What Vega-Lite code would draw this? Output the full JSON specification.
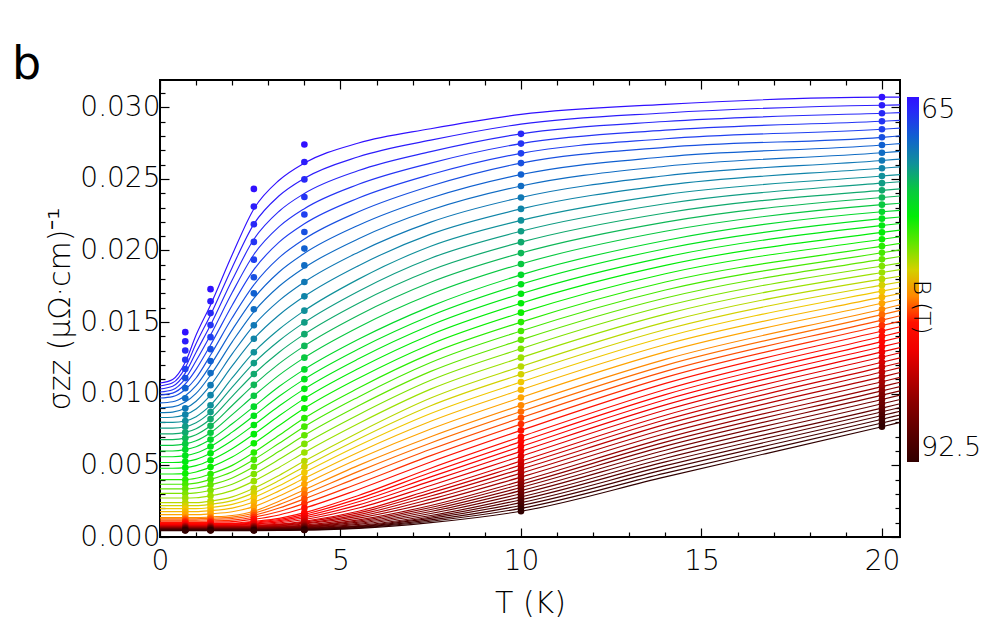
{
  "$schema": "https://vega.github.io/schema/vega-lite/v6.json",
  "width": 740,
  "height": 457,
  "autosize": {"type": "none"},
  "padding": {"left": 160, "top": 80, "right": 100, "bottom": 80},
  "background": "white",
  "title": {"text": "b", "anchor": "start", "frame": "group", "font": "DejaVu Sans", "fontSize": 46, "fontWeight": "normal", "color": "black", "dx": -148, "dy": 49, "offset": 3, "baseline": "alphabetic"},
  "config": {
    "view": {"stroke": "black", "strokeWidth": 2},
    "axis": {"domain": false, "grid": false, "labelFont": "DejaVu Sans", "labelFontSize": 28, "labelFontWeight": 300, "labelColor": "black", "titleFont": "DejaVu Sans", "titleFontSize": 30, "titleFontWeight": 300, "titleColor": "black", "tickColor": "black", "tickWidth": 1.2, "labelOverlap": false, "labelBound": false, "labelFlush": false},
    "legend": {"orient": "none", "legendX": 747, "legendY": 17, "padding": 0, "direction": "vertical", "gradientLength": 365, "gradientThickness": 12, "gradientStrokeWidth": 0, "labelFont": "DejaVu Sans", "labelFontSize": 27, "labelFontWeight": 300, "labelColor": "black", "labelOffset": 5, "labelOverlap": false, "titleFont": "DejaVu Sans", "titleFontSize": 23, "titleFontWeight": 300, "titleColor": "black", "titleOrient": "right", "titleAngle": 0, "titleAnchor": "middle", "titleBaseline": "middle", "titlePadding": -60}
  },
  "datasets": {
    "curves": [
      {"B":65,"T":0,"s":0.01075},{"B":65,"T":0.35,"s":0.011},{"B":65,"T":0.7,"s":0.0122},{"B":65,"T":1,"s":0.0141},{"B":65,"T":1.4,"s":0.0162},{"B":65,"T":2,"s":0.0197},{"B":65,"T":2.6,"s":0.0229},{"B":65,"T":3.3,"s":0.0249},{"B":65,"T":4,"s":0.0261},{"B":65,"T":5.5,"s":0.0275},{"B":65,"T":7.5,"s":0.0285},{"B":65,"T":10,"s":0.0295},{"B":65,"T":14,"s":0.0302},{"B":65,"T":20,"s":0.0307},{"B":65,"T":20.5,"s":0.0307},
      {"B":65.5,"T":0,"s":0.01054},{"B":65.5,"T":0.35,"s":0.01076},{"B":65.5,"T":0.7,"s":0.01182},{"B":65.5,"T":1,"s":0.0135},{"B":65.5,"T":1.4,"s":0.0155},{"B":65.5,"T":2,"s":0.01882},{"B":65.5,"T":2.6,"s":0.02184},{"B":65.5,"T":3.3,"s":0.02382},{"B":65.5,"T":4,"s":0.02504},{"B":65.5,"T":5.5,"s":0.02654},{"B":65.5,"T":7.5,"s":0.0277},{"B":65.5,"T":10,"s":0.02882},{"B":65.5,"T":14,"s":0.0296},{"B":65.5,"T":20,"s":0.03014},{"B":65.5,"T":20.5,"s":0.03016},
      {"B":66,"T":0,"s":0.01033},{"B":66,"T":0.35,"s":0.01052},{"B":66,"T":0.7,"s":0.01144},{"B":66,"T":1,"s":0.0129},{"B":66,"T":1.4,"s":0.0148},{"B":66,"T":2,"s":0.01794},{"B":66,"T":2.6,"s":0.02078},{"B":66,"T":3.3,"s":0.02274},{"B":66,"T":4,"s":0.02398},{"B":66,"T":5.5,"s":0.02558},{"B":66,"T":7.5,"s":0.0269},{"B":66,"T":10,"s":0.02814},{"B":66,"T":14,"s":0.029},{"B":66,"T":20,"s":0.02958},{"B":66,"T":20.5,"s":0.02962},
      {"B":66.5,"T":0,"s":0.01012},{"B":66.5,"T":0.35,"s":0.01028},{"B":66.5,"T":0.7,"s":0.01106},{"B":66.5,"T":1,"s":0.0123},{"B":66.5,"T":1.4,"s":0.0141},{"B":66.5,"T":2,"s":0.01706},{"B":66.5,"T":2.6,"s":0.01972},{"B":66.5,"T":3.3,"s":0.02166},{"B":66.5,"T":4,"s":0.02292},{"B":66.5,"T":5.5,"s":0.02462},{"B":66.5,"T":7.5,"s":0.0261},{"B":66.5,"T":10,"s":0.02746},{"B":66.5,"T":14,"s":0.0284},{"B":66.5,"T":20,"s":0.02902},{"B":66.5,"T":20.5,"s":0.02908},
      {"B":67,"T":0,"s":0.00991},{"B":67,"T":0.35,"s":0.01004},{"B":67,"T":0.7,"s":0.01068},{"B":67,"T":1,"s":0.0117},{"B":67,"T":1.4,"s":0.0134},{"B":67,"T":2,"s":0.01618},{"B":67,"T":2.6,"s":0.01866},{"B":67,"T":3.3,"s":0.02058},{"B":67,"T":4,"s":0.02186},{"B":67,"T":5.5,"s":0.02366},{"B":67,"T":7.5,"s":0.0253},{"B":67,"T":10,"s":0.02678},{"B":67,"T":14,"s":0.0278},{"B":67,"T":20,"s":0.02846},{"B":67,"T":20.5,"s":0.02854},
      {"B":67.5,"T":0,"s":0.0097},{"B":67.5,"T":0.35,"s":0.0098},{"B":67.5,"T":0.7,"s":0.0103},{"B":67.5,"T":1,"s":0.0111},{"B":67.5,"T":1.4,"s":0.0127},{"B":67.5,"T":2,"s":0.0153},{"B":67.5,"T":2.6,"s":0.0176},{"B":67.5,"T":3.3,"s":0.0195},{"B":67.5,"T":4,"s":0.0208},{"B":67.5,"T":5.5,"s":0.0227},{"B":67.5,"T":7.5,"s":0.0245},{"B":67.5,"T":10,"s":0.0261},{"B":67.5,"T":14,"s":0.0272},{"B":67.5,"T":20,"s":0.0279},{"B":67.5,"T":20.5,"s":0.028},
      {"B":68,"T":0,"s":0.00936},{"B":68,"T":0.35,"s":0.00944},{"B":68,"T":0.7,"s":0.00986},{"B":68,"T":1,"s":0.01056},{"B":68,"T":1.4,"s":0.012},{"B":68,"T":2,"s":0.01446},{"B":68,"T":2.6,"s":0.01666},{"B":68,"T":3.3,"s":0.0185},{"B":68,"T":4,"s":0.0198},{"B":68,"T":5.5,"s":0.02176},{"B":68,"T":7.5,"s":0.02366},{"B":68,"T":10,"s":0.0253},{"B":68,"T":14,"s":0.02654},{"B":68,"T":20,"s":0.02736},{"B":68,"T":20.5,"s":0.02746},
      {"B":68.5,"T":0,"s":0.00902},{"B":68.5,"T":0.35,"s":0.00908},{"B":68.5,"T":0.7,"s":0.00942},{"B":68.5,"T":1,"s":0.01002},{"B":68.5,"T":1.4,"s":0.0113},{"B":68.5,"T":2,"s":0.01362},{"B":68.5,"T":2.6,"s":0.01572},{"B":68.5,"T":3.3,"s":0.0175},{"B":68.5,"T":4,"s":0.0188},{"B":68.5,"T":5.5,"s":0.02082},{"B":68.5,"T":7.5,"s":0.02282},{"B":68.5,"T":10,"s":0.0245},{"B":68.5,"T":14,"s":0.02588},{"B":68.5,"T":20,"s":0.02682},{"B":68.5,"T":20.5,"s":0.02692},
      {"B":69,"T":0,"s":0.00868},{"B":69,"T":0.35,"s":0.00872},{"B":69,"T":0.7,"s":0.00898},{"B":69,"T":1,"s":0.00948},{"B":69,"T":1.4,"s":0.0106},{"B":69,"T":2,"s":0.01278},{"B":69,"T":2.6,"s":0.01478},{"B":69,"T":3.3,"s":0.0165},{"B":69,"T":4,"s":0.0178},{"B":69,"T":5.5,"s":0.01988},{"B":69,"T":7.5,"s":0.02198},{"B":69,"T":10,"s":0.0237},{"B":69,"T":14,"s":0.02522},{"B":69,"T":20,"s":0.02628},{"B":69,"T":20.5,"s":0.02638},
      {"B":69.5,"T":0,"s":0.00834},{"B":69.5,"T":0.35,"s":0.00836},{"B":69.5,"T":0.7,"s":0.00854},{"B":69.5,"T":1,"s":0.00894},{"B":69.5,"T":1.4,"s":0.0099},{"B":69.5,"T":2,"s":0.01194},{"B":69.5,"T":2.6,"s":0.01384},{"B":69.5,"T":3.3,"s":0.0155},{"B":69.5,"T":4,"s":0.0168},{"B":69.5,"T":5.5,"s":0.01894},{"B":69.5,"T":7.5,"s":0.02114},{"B":69.5,"T":10,"s":0.0229},{"B":69.5,"T":14,"s":0.02456},{"B":69.5,"T":20,"s":0.02574},{"B":69.5,"T":20.5,"s":0.02584},
      {"B":70,"T":0,"s":0.008},{"B":70,"T":0.35,"s":0.008},{"B":70,"T":0.7,"s":0.0081},{"B":70,"T":1,"s":0.0084},{"B":70,"T":1.4,"s":0.0092},{"B":70,"T":2,"s":0.0111},{"B":70,"T":2.6,"s":0.0129},{"B":70,"T":3.3,"s":0.0145},{"B":70,"T":4,"s":0.0158},{"B":70,"T":5.5,"s":0.018},{"B":70,"T":7.5,"s":0.0203},{"B":70,"T":10,"s":0.0221},{"B":70,"T":14,"s":0.0239},{"B":70,"T":20,"s":0.0252},{"B":70,"T":20.5,"s":0.0253},
      {"B":70.5,"T":0,"s":0.0076},{"B":70.5,"T":0.35,"s":0.0076},{"B":70.5,"T":0.7,"s":0.0077},{"B":70.5,"T":1,"s":0.00798},{"B":70.5,"T":1.4,"s":0.00872},{"B":70.5,"T":2,"s":0.01046},{"B":70.5,"T":2.6,"s":0.01214},{"B":70.5,"T":3.3,"s":0.0137},{"B":70.5,"T":4,"s":0.01498},{"B":70.5,"T":5.5,"s":0.01716},{"B":70.5,"T":7.5,"s":0.01946},{"B":70.5,"T":10,"s":0.02134},{"B":70.5,"T":14,"s":0.02326},{"B":70.5,"T":20,"s":0.0247},{"B":70.5,"T":20.5,"s":0.0248},
      {"B":71,"T":0,"s":0.0072},{"B":71,"T":0.35,"s":0.0072},{"B":71,"T":0.7,"s":0.0073},{"B":71,"T":1,"s":0.00756},{"B":71,"T":1.4,"s":0.00824},{"B":71,"T":2,"s":0.00982},{"B":71,"T":2.6,"s":0.01138},{"B":71,"T":3.3,"s":0.0129},{"B":71,"T":4,"s":0.01416},{"B":71,"T":5.5,"s":0.01632},{"B":71,"T":7.5,"s":0.01862},{"B":71,"T":10,"s":0.02058},{"B":71,"T":14,"s":0.02262},{"B":71,"T":20,"s":0.0242},{"B":71,"T":20.5,"s":0.0243},
      {"B":71.5,"T":0,"s":0.0068},{"B":71.5,"T":0.35,"s":0.0068},{"B":71.5,"T":0.7,"s":0.0069},{"B":71.5,"T":1,"s":0.00714},{"B":71.5,"T":1.4,"s":0.00776},{"B":71.5,"T":2,"s":0.00918},{"B":71.5,"T":2.6,"s":0.01062},{"B":71.5,"T":3.3,"s":0.0121},{"B":71.5,"T":4,"s":0.01334},{"B":71.5,"T":5.5,"s":0.01548},{"B":71.5,"T":7.5,"s":0.01778},{"B":71.5,"T":10,"s":0.01982},{"B":71.5,"T":14,"s":0.02198},{"B":71.5,"T":20,"s":0.0237},{"B":71.5,"T":20.5,"s":0.0238},
      {"B":72,"T":0,"s":0.0064},{"B":72,"T":0.35,"s":0.0064},{"B":72,"T":0.7,"s":0.0065},{"B":72,"T":1,"s":0.00672},{"B":72,"T":1.4,"s":0.00728},{"B":72,"T":2,"s":0.00854},{"B":72,"T":2.6,"s":0.00986},{"B":72,"T":3.3,"s":0.0113},{"B":72,"T":4,"s":0.01252},{"B":72,"T":5.5,"s":0.01464},{"B":72,"T":7.5,"s":0.01694},{"B":72,"T":10,"s":0.01906},{"B":72,"T":14,"s":0.02134},{"B":72,"T":20,"s":0.0232},{"B":72,"T":20.5,"s":0.0233},
      {"B":72.5,"T":0,"s":0.006},{"B":72.5,"T":0.35,"s":0.006},{"B":72.5,"T":0.7,"s":0.0061},{"B":72.5,"T":1,"s":0.0063},{"B":72.5,"T":1.4,"s":0.0068},{"B":72.5,"T":2,"s":0.0079},{"B":72.5,"T":2.6,"s":0.0091},{"B":72.5,"T":3.3,"s":0.0105},{"B":72.5,"T":4,"s":0.0117},{"B":72.5,"T":5.5,"s":0.0138},{"B":72.5,"T":7.5,"s":0.0161},{"B":72.5,"T":10,"s":0.0183},{"B":72.5,"T":14,"s":0.0207},{"B":72.5,"T":20,"s":0.0227},{"B":72.5,"T":20.5,"s":0.0228},
      {"B":73,"T":0,"s":0.0056},{"B":73,"T":0.35,"s":0.0056},{"B":73,"T":0.7,"s":0.00568},{"B":73,"T":1,"s":0.00586},{"B":73,"T":1.4,"s":0.00632},{"B":73,"T":2,"s":0.00732},{"B":73,"T":2.6,"s":0.00846},{"B":73,"T":3.3,"s":0.00982},{"B":73,"T":4,"s":0.01102},{"B":73,"T":5.5,"s":0.01312},{"B":73,"T":7.5,"s":0.01544},{"B":73,"T":10,"s":0.01764},{"B":73,"T":14,"s":0.02012},{"B":73,"T":20,"s":0.02222},{"B":73,"T":20.5,"s":0.02234},
      {"B":73.5,"T":0,"s":0.0052},{"B":73.5,"T":0.35,"s":0.0052},{"B":73.5,"T":0.7,"s":0.00526},{"B":73.5,"T":1,"s":0.00542},{"B":73.5,"T":1.4,"s":0.00584},{"B":73.5,"T":2,"s":0.00674},{"B":73.5,"T":2.6,"s":0.00782},{"B":73.5,"T":3.3,"s":0.00914},{"B":73.5,"T":4,"s":0.01034},{"B":73.5,"T":5.5,"s":0.01244},{"B":73.5,"T":7.5,"s":0.01478},{"B":73.5,"T":10,"s":0.01698},{"B":73.5,"T":14,"s":0.01954},{"B":73.5,"T":20,"s":0.02174},{"B":73.5,"T":20.5,"s":0.02188},
      {"B":74,"T":0,"s":0.0048},{"B":74,"T":0.35,"s":0.0048},{"B":74,"T":0.7,"s":0.00484},{"B":74,"T":1,"s":0.00498},{"B":74,"T":1.4,"s":0.00536},{"B":74,"T":2,"s":0.00616},{"B":74,"T":2.6,"s":0.00718},{"B":74,"T":3.3,"s":0.00846},{"B":74,"T":4,"s":0.00966},{"B":74,"T":5.5,"s":0.01176},{"B":74,"T":7.5,"s":0.01412},{"B":74,"T":10,"s":0.01632},{"B":74,"T":14,"s":0.01896},{"B":74,"T":20,"s":0.02126},{"B":74,"T":20.5,"s":0.02142},
      {"B":74.5,"T":0,"s":0.0044},{"B":74.5,"T":0.35,"s":0.0044},{"B":74.5,"T":0.7,"s":0.00442},{"B":74.5,"T":1,"s":0.00454},{"B":74.5,"T":1.4,"s":0.00488},{"B":74.5,"T":2,"s":0.00558},{"B":74.5,"T":2.6,"s":0.00654},{"B":74.5,"T":3.3,"s":0.00778},{"B":74.5,"T":4,"s":0.00898},{"B":74.5,"T":5.5,"s":0.01108},{"B":74.5,"T":7.5,"s":0.01346},{"B":74.5,"T":10,"s":0.01566},{"B":74.5,"T":14,"s":0.01838},{"B":74.5,"T":20,"s":0.02078},{"B":74.5,"T":20.5,"s":0.02096},
      {"B":75,"T":0,"s":0.004},{"B":75,"T":0.7,"s":0.004},{"B":75,"T":1,"s":0.0041},{"B":75,"T":1.4,"s":0.0044},{"B":75,"T":2,"s":0.005},{"B":75,"T":2.6,"s":0.0059},{"B":75,"T":3.3,"s":0.0071},{"B":75,"T":4,"s":0.0083},{"B":75,"T":5.5,"s":0.0104},{"B":75,"T":7.5,"s":0.0128},{"B":75,"T":10,"s":0.015},{"B":75,"T":14,"s":0.0178},{"B":75,"T":20,"s":0.0203},{"B":75,"T":20.5,"s":0.0205},
      {"B":75.5,"T":0,"s":0.00368},{"B":75.5,"T":0.7,"s":0.00368},{"B":75.5,"T":1,"s":0.00376},{"B":75.5,"T":1.4,"s":0.00402},{"B":75.5,"T":2,"s":0.00456},{"B":75.5,"T":2.6,"s":0.0054},{"B":75.5,"T":3.3,"s":0.00654},{"B":75.5,"T":4,"s":0.0077},{"B":75.5,"T":5.5,"s":0.00978},{"B":75.5,"T":7.5,"s":0.01218},{"B":75.5,"T":10,"s":0.01438},{"B":75.5,"T":14,"s":0.01724},{"B":75.5,"T":20,"s":0.01984},{"B":75.5,"T":20.5,"s":0.02004},
      {"B":76,"T":0,"s":0.00336},{"B":76,"T":0.7,"s":0.00336},{"B":76,"T":1,"s":0.00342},{"B":76,"T":1.4,"s":0.00364},{"B":76,"T":2,"s":0.00412},{"B":76,"T":2.6,"s":0.0049},{"B":76,"T":3.3,"s":0.00598},{"B":76,"T":4,"s":0.0071},{"B":76,"T":5.5,"s":0.00916},{"B":76,"T":7.5,"s":0.01156},{"B":76,"T":10,"s":0.01376},{"B":76,"T":14,"s":0.01668},{"B":76,"T":20,"s":0.01938},{"B":76,"T":20.5,"s":0.01958},
      {"B":76.5,"T":0,"s":0.00304},{"B":76.5,"T":0.7,"s":0.00304},{"B":76.5,"T":1,"s":0.00308},{"B":76.5,"T":1.4,"s":0.00326},{"B":76.5,"T":2,"s":0.00368},{"B":76.5,"T":2.6,"s":0.0044},{"B":76.5,"T":3.3,"s":0.00542},{"B":76.5,"T":4,"s":0.0065},{"B":76.5,"T":5.5,"s":0.00854},{"B":76.5,"T":7.5,"s":0.01094},{"B":76.5,"T":10,"s":0.01314},{"B":76.5,"T":14,"s":0.01612},{"B":76.5,"T":20,"s":0.01892},{"B":76.5,"T":20.5,"s":0.01912},
      {"B":77,"T":0,"s":0.00272},{"B":77,"T":0.7,"s":0.00272},{"B":77,"T":1,"s":0.00274},{"B":77,"T":1.4,"s":0.00288},{"B":77,"T":2,"s":0.00324},{"B":77,"T":2.6,"s":0.0039},{"B":77,"T":3.3,"s":0.00486},{"B":77,"T":4,"s":0.0059},{"B":77,"T":5.5,"s":0.00792},{"B":77,"T":7.5,"s":0.01032},{"B":77,"T":10,"s":0.01252},{"B":77,"T":14,"s":0.01556},{"B":77,"T":20,"s":0.01846},{"B":77,"T":20.5,"s":0.01866},
      {"B":77.5,"T":0,"s":0.0024},{"B":77.5,"T":0.7,"s":0.0024},{"B":77.5,"T":1,"s":0.0024},{"B":77.5,"T":1.4,"s":0.0025},{"B":77.5,"T":2,"s":0.0028},{"B":77.5,"T":2.6,"s":0.0034},{"B":77.5,"T":3.3,"s":0.0043},{"B":77.5,"T":4,"s":0.0053},{"B":77.5,"T":5.5,"s":0.0073},{"B":77.5,"T":7.5,"s":0.0097},{"B":77.5,"T":10,"s":0.0119},{"B":77.5,"T":14,"s":0.015},{"B":77.5,"T":20,"s":0.018},{"B":77.5,"T":20.5,"s":0.0182},
      {"B":78,"T":0,"s":0.00219},{"B":78,"T":0.7,"s":0.00219},{"B":78,"T":1,"s":0.00219},{"B":78,"T":1.4,"s":0.00228},{"B":78,"T":2,"s":0.00254},{"B":78,"T":2.6,"s":0.00308},{"B":78,"T":3.3,"s":0.00394},{"B":78,"T":4,"s":0.0049},{"B":78,"T":5.5,"s":0.00684},{"B":78,"T":7.5,"s":0.00916},{"B":78,"T":10,"s":0.01136},{"B":78,"T":14,"s":0.01448},{"B":78,"T":20,"s":0.01758},{"B":78,"T":20.5,"s":0.0178},
      {"B":78.5,"T":0,"s":0.00198},{"B":78.5,"T":0.7,"s":0.00198},{"B":78.5,"T":1,"s":0.00198},{"B":78.5,"T":1.4,"s":0.00206},{"B":78.5,"T":2,"s":0.00228},{"B":78.5,"T":2.6,"s":0.00276},{"B":78.5,"T":3.3,"s":0.00358},{"B":78.5,"T":4,"s":0.0045},{"B":78.5,"T":5.5,"s":0.00638},{"B":78.5,"T":7.5,"s":0.00862},{"B":78.5,"T":10,"s":0.01082},{"B":78.5,"T":14,"s":0.01396},{"B":78.5,"T":20,"s":0.01716},{"B":78.5,"T":20.5,"s":0.0174},
      {"B":79,"T":0,"s":0.00177},{"B":79,"T":0.7,"s":0.00177},{"B":79,"T":1,"s":0.00177},{"B":79,"T":1.4,"s":0.00184},{"B":79,"T":2,"s":0.00202},{"B":79,"T":2.6,"s":0.00244},{"B":79,"T":3.3,"s":0.00322},{"B":79,"T":4,"s":0.0041},{"B":79,"T":5.5,"s":0.00592},{"B":79,"T":7.5,"s":0.00808},{"B":79,"T":10,"s":0.01028},{"B":79,"T":14,"s":0.01344},{"B":79,"T":20,"s":0.01674},{"B":79,"T":20.5,"s":0.017},
      {"B":79.5,"T":0,"s":0.00156},{"B":79.5,"T":0.7,"s":0.00156},{"B":79.5,"T":1,"s":0.00156},{"B":79.5,"T":1.4,"s":0.00162},{"B":79.5,"T":2,"s":0.00176},{"B":79.5,"T":2.6,"s":0.00212},{"B":79.5,"T":3.3,"s":0.00286},{"B":79.5,"T":4,"s":0.0037},{"B":79.5,"T":5.5,"s":0.00546},{"B":79.5,"T":7.5,"s":0.00754},{"B":79.5,"T":10,"s":0.00974},{"B":79.5,"T":14,"s":0.01292},{"B":79.5,"T":20,"s":0.01632},{"B":79.5,"T":20.5,"s":0.0166},
      {"B":80,"T":0,"s":0.00135},{"B":80,"T":0.7,"s":0.00135},{"B":80,"T":1,"s":0.00135},{"B":80,"T":1.4,"s":0.0014},{"B":80,"T":2,"s":0.0015},{"B":80,"T":2.6,"s":0.0018},{"B":80,"T":3.3,"s":0.0025},{"B":80,"T":4,"s":0.0033},{"B":80,"T":5.5,"s":0.005},{"B":80,"T":7.5,"s":0.007},{"B":80,"T":10,"s":0.0092},{"B":80,"T":14,"s":0.0124},{"B":80,"T":20,"s":0.0159},{"B":80,"T":20.5,"s":0.0162},
      {"B":80.5,"T":0,"s":0.00127},{"B":80.5,"T":0.7,"s":0.00127},{"B":80.5,"T":1,"s":0.00127},{"B":80.5,"T":1.4,"s":0.00131},{"B":80.5,"T":2,"s":0.00139},{"B":80.5,"T":2.6,"s":0.00166},{"B":80.5,"T":3.3,"s":0.00226},{"B":80.5,"T":4,"s":0.00298},{"B":80.5,"T":5.5,"s":0.00458},{"B":80.5,"T":7.5,"s":0.00656},{"B":80.5,"T":10,"s":0.00876},{"B":80.5,"T":14,"s":0.01198},{"B":80.5,"T":20,"s":0.01552},{"B":80.5,"T":20.5,"s":0.01582},
      {"B":81,"T":0,"s":0.00118},{"B":81,"T":0.7,"s":0.00118},{"B":81,"T":1,"s":0.00118},{"B":81,"T":1.4,"s":0.00122},{"B":81,"T":2,"s":0.00129},{"B":81,"T":2.6,"s":0.00152},{"B":81,"T":3.3,"s":0.00202},{"B":81,"T":4,"s":0.00266},{"B":81,"T":5.5,"s":0.00416},{"B":81,"T":7.5,"s":0.00612},{"B":81,"T":10,"s":0.00832},{"B":81,"T":14,"s":0.01156},{"B":81,"T":20,"s":0.01514},{"B":81,"T":20.5,"s":0.01544},
      {"B":81.5,"T":0,"s":0.0011},{"B":81.5,"T":0.7,"s":0.0011},{"B":81.5,"T":1,"s":0.0011},{"B":81.5,"T":1.4,"s":0.00112},{"B":81.5,"T":2,"s":0.00118},{"B":81.5,"T":2.6,"s":0.00138},{"B":81.5,"T":3.3,"s":0.00178},{"B":81.5,"T":4,"s":0.00234},{"B":81.5,"T":5.5,"s":0.00374},{"B":81.5,"T":7.5,"s":0.00568},{"B":81.5,"T":10,"s":0.00788},{"B":81.5,"T":14,"s":0.01114},{"B":81.5,"T":20,"s":0.01476},{"B":81.5,"T":20.5,"s":0.01506},
      {"B":82,"T":0,"s":0.00101},{"B":82,"T":0.7,"s":0.00101},{"B":82,"T":1,"s":0.00101},{"B":82,"T":1.4,"s":0.00103},{"B":82,"T":2,"s":0.00107},{"B":82,"T":2.6,"s":0.00124},{"B":82,"T":3.3,"s":0.00154},{"B":82,"T":4,"s":0.00202},{"B":82,"T":5.5,"s":0.00332},{"B":82,"T":7.5,"s":0.00524},{"B":82,"T":10,"s":0.00744},{"B":82,"T":14,"s":0.01072},{"B":82,"T":20,"s":0.01438},{"B":82,"T":20.5,"s":0.01468},
      {"B":82.5,"T":0,"s":0.00093},{"B":82.5,"T":0.7,"s":0.00093},{"B":82.5,"T":1,"s":0.00093},{"B":82.5,"T":1.4,"s":0.00094},{"B":82.5,"T":2,"s":0.00097},{"B":82.5,"T":2.6,"s":0.0011},{"B":82.5,"T":3.3,"s":0.0013},{"B":82.5,"T":4,"s":0.0017},{"B":82.5,"T":5.5,"s":0.0029},{"B":82.5,"T":7.5,"s":0.0048},{"B":82.5,"T":10,"s":0.007},{"B":82.5,"T":14,"s":0.0103},{"B":82.5,"T":20,"s":0.014},{"B":82.5,"T":20.5,"s":0.0143},
      {"B":83,"T":0,"s":0.0009},{"B":83,"T":0.7,"s":0.0009},{"B":83,"T":1,"s":0.0009},{"B":83,"T":1.4,"s":0.0009},{"B":83,"T":2,"s":0.00093},{"B":83,"T":2.6,"s":0.00104},{"B":83,"T":3.3,"s":0.00122},{"B":83,"T":4,"s":0.00158},{"B":83,"T":5.5,"s":0.00268},{"B":83,"T":7.5,"s":0.0045},{"B":83,"T":10,"s":0.00666},{"B":83,"T":14,"s":0.00994},{"B":83,"T":20,"s":0.01364},{"B":83,"T":20.5,"s":0.01394},
      {"B":83.5,"T":0,"s":0.00086},{"B":83.5,"T":0.7,"s":0.00086},{"B":83.5,"T":1,"s":0.00086},{"B":83.5,"T":1.4,"s":0.00087},{"B":83.5,"T":2,"s":0.00089},{"B":83.5,"T":2.6,"s":0.00098},{"B":83.5,"T":3.3,"s":0.00114},{"B":83.5,"T":4,"s":0.00146},{"B":83.5,"T":5.5,"s":0.00246},{"B":83.5,"T":7.5,"s":0.0042},{"B":83.5,"T":10,"s":0.00632},{"B":83.5,"T":14,"s":0.00958},{"B":83.5,"T":20,"s":0.01328},{"B":83.5,"T":20.5,"s":0.01358},
      {"B":84,"T":0,"s":0.00083},{"B":84,"T":0.7,"s":0.00083},{"B":84,"T":1,"s":0.00083},{"B":84,"T":1.4,"s":0.00083},{"B":84,"T":2,"s":0.00085},{"B":84,"T":2.6,"s":0.00092},{"B":84,"T":3.3,"s":0.00106},{"B":84,"T":4,"s":0.00134},{"B":84,"T":5.5,"s":0.00224},{"B":84,"T":7.5,"s":0.0039},{"B":84,"T":10,"s":0.00598},{"B":84,"T":14,"s":0.00922},{"B":84,"T":20,"s":0.01292},{"B":84,"T":20.5,"s":0.01322},
      {"B":84.5,"T":0,"s":0.00079},{"B":84.5,"T":0.7,"s":0.00079},{"B":84.5,"T":1,"s":0.00079},{"B":84.5,"T":1.4,"s":0.00079},{"B":84.5,"T":2,"s":0.00081},{"B":84.5,"T":2.6,"s":0.00086},{"B":84.5,"T":3.3,"s":0.00098},{"B":84.5,"T":4,"s":0.00122},{"B":84.5,"T":5.5,"s":0.00202},{"B":84.5,"T":7.5,"s":0.0036},{"B":84.5,"T":10,"s":0.00564},{"B":84.5,"T":14,"s":0.00886},{"B":84.5,"T":20,"s":0.01256},{"B":84.5,"T":20.5,"s":0.01286},
      {"B":85,"T":0,"s":0.00076},{"B":85,"T":0.7,"s":0.00076},{"B":85,"T":1,"s":0.00076},{"B":85,"T":1.4,"s":0.00076},{"B":85,"T":2,"s":0.00077},{"B":85,"T":2.6,"s":0.0008},{"B":85,"T":3.3,"s":0.0009},{"B":85,"T":4,"s":0.0011},{"B":85,"T":5.5,"s":0.0018},{"B":85,"T":7.5,"s":0.0033},{"B":85,"T":10,"s":0.0053},{"B":85,"T":14,"s":0.0085},{"B":85,"T":20,"s":0.0122},{"B":85,"T":20.5,"s":0.0125},
      {"B":85.5,"T":0,"s":0.00074},{"B":85.5,"T":0.7,"s":0.00074},{"B":85.5,"T":1,"s":0.00074},{"B":85.5,"T":1.4,"s":0.00074},{"B":85.5,"T":2,"s":0.00075},{"B":85.5,"T":2.6,"s":0.00077},{"B":85.5,"T":3.3,"s":0.00086},{"B":85.5,"T":4,"s":0.00104},{"B":85.5,"T":5.5,"s":0.00168},{"B":85.5,"T":7.5,"s":0.00308},{"B":85.5,"T":10,"s":0.00502},{"B":85.5,"T":14,"s":0.00818},{"B":85.5,"T":20,"s":0.01186},{"B":85.5,"T":20.5,"s":0.01216},
      {"B":86,"T":0,"s":0.00072},{"B":86,"T":0.7,"s":0.00072},{"B":86,"T":1,"s":0.00072},{"B":86,"T":1.4,"s":0.00072},{"B":86,"T":2,"s":0.00072},{"B":86,"T":2.6,"s":0.00074},{"B":86,"T":3.3,"s":0.00082},{"B":86,"T":4,"s":0.00097},{"B":86,"T":5.5,"s":0.00156},{"B":86,"T":7.5,"s":0.00286},{"B":86,"T":10,"s":0.00474},{"B":86,"T":14,"s":0.00786},{"B":86,"T":20,"s":0.01152},{"B":86,"T":20.5,"s":0.01182},
      {"B":86.5,"T":0,"s":0.00069},{"B":86.5,"T":0.7,"s":0.00069},{"B":86.5,"T":1,"s":0.00069},{"B":86.5,"T":1.4,"s":0.00069},{"B":86.5,"T":2,"s":0.0007},{"B":86.5,"T":2.6,"s":0.00072},{"B":86.5,"T":3.3,"s":0.00078},{"B":86.5,"T":4,"s":0.00091},{"B":86.5,"T":5.5,"s":0.00144},{"B":86.5,"T":7.5,"s":0.00264},{"B":86.5,"T":10,"s":0.00446},{"B":86.5,"T":14,"s":0.00754},{"B":86.5,"T":20,"s":0.01118},{"B":86.5,"T":20.5,"s":0.01148},
      {"B":87,"T":0,"s":0.00067},{"B":87,"T":0.7,"s":0.00067},{"B":87,"T":1,"s":0.00067},{"B":87,"T":1.4,"s":0.00067},{"B":87,"T":2,"s":0.00067},{"B":87,"T":2.6,"s":0.00069},{"B":87,"T":3.3,"s":0.00074},{"B":87,"T":4,"s":0.00084},{"B":87,"T":5.5,"s":0.00132},{"B":87,"T":7.5,"s":0.00242},{"B":87,"T":10,"s":0.00418},{"B":87,"T":14,"s":0.00722},{"B":87,"T":20,"s":0.01084},{"B":87,"T":20.5,"s":0.01114},
      {"B":87.5,"T":0,"s":0.00065},{"B":87.5,"T":0.7,"s":0.00065},{"B":87.5,"T":1,"s":0.00065},{"B":87.5,"T":1.4,"s":0.00065},{"B":87.5,"T":2,"s":0.00065},{"B":87.5,"T":2.6,"s":0.00066},{"B":87.5,"T":3.3,"s":0.0007},{"B":87.5,"T":4,"s":0.00078},{"B":87.5,"T":5.5,"s":0.0012},{"B":87.5,"T":7.5,"s":0.0022},{"B":87.5,"T":10,"s":0.0039},{"B":87.5,"T":14,"s":0.0069},{"B":87.5,"T":20,"s":0.0105},{"B":87.5,"T":20.5,"s":0.0108},
      {"B":88,"T":0,"s":0.00063},{"B":88,"T":0.7,"s":0.00063},{"B":88,"T":1,"s":0.00063},{"B":88,"T":1.4,"s":0.00063},{"B":88,"T":2,"s":0.00063},{"B":88,"T":2.6,"s":0.00064},{"B":88,"T":3.3,"s":0.00067},{"B":88,"T":4,"s":0.00075},{"B":88,"T":5.5,"s":0.00112},{"B":88,"T":7.5,"s":0.00206},{"B":88,"T":10,"s":0.00368},{"B":88,"T":14,"s":0.00662},{"B":88,"T":20,"s":0.0102},{"B":88,"T":20.5,"s":0.0105},
      {"B":88.5,"T":0,"s":0.00061},{"B":88.5,"T":0.7,"s":0.00061},{"B":88.5,"T":1,"s":0.00061},{"B":88.5,"T":1.4,"s":0.00061},{"B":88.5,"T":2,"s":0.00061},{"B":88.5,"T":2.6,"s":0.00062},{"B":88.5,"T":3.3,"s":0.00065},{"B":88.5,"T":4,"s":0.00071},{"B":88.5,"T":5.5,"s":0.00104},{"B":88.5,"T":7.5,"s":0.00192},{"B":88.5,"T":10,"s":0.00346},{"B":88.5,"T":14,"s":0.00634},{"B":88.5,"T":20,"s":0.0099},{"B":88.5,"T":20.5,"s":0.0102},
      {"B":89,"T":0,"s":0.00059},{"B":89,"T":0.7,"s":0.00059},{"B":89,"T":1,"s":0.00059},{"B":89,"T":1.4,"s":0.00059},{"B":89,"T":2,"s":0.00059},{"B":89,"T":2.6,"s":0.00059},{"B":89,"T":3.3,"s":0.00062},{"B":89,"T":4,"s":0.00068},{"B":89,"T":5.5,"s":0.00096},{"B":89,"T":7.5,"s":0.00178},{"B":89,"T":10,"s":0.00324},{"B":89,"T":14,"s":0.00606},{"B":89,"T":20,"s":0.0096},{"B":89,"T":20.5,"s":0.0099},
      {"B":89.5,"T":0,"s":0.00057},{"B":89.5,"T":0.7,"s":0.00057},{"B":89.5,"T":1,"s":0.00057},{"B":89.5,"T":1.4,"s":0.00057},{"B":89.5,"T":2,"s":0.00057},{"B":89.5,"T":2.6,"s":0.00057},{"B":89.5,"T":3.3,"s":0.0006},{"B":89.5,"T":4,"s":0.00064},{"B":89.5,"T":5.5,"s":0.00088},{"B":89.5,"T":7.5,"s":0.00164},{"B":89.5,"T":10,"s":0.00302},{"B":89.5,"T":14,"s":0.00578},{"B":89.5,"T":20,"s":0.0093},{"B":89.5,"T":20.5,"s":0.0096},
      {"B":90,"T":0,"s":0.00055},{"B":90,"T":0.7,"s":0.00055},{"B":90,"T":1,"s":0.00055},{"B":90,"T":1.4,"s":0.00055},{"B":90,"T":2,"s":0.00055},{"B":90,"T":2.6,"s":0.00055},{"B":90,"T":3.3,"s":0.00057},{"B":90,"T":4,"s":0.00061},{"B":90,"T":5.5,"s":0.0008},{"B":90,"T":7.5,"s":0.0015},{"B":90,"T":10,"s":0.0028},{"B":90,"T":14,"s":0.0055},{"B":90,"T":20,"s":0.009},{"B":90,"T":20.5,"s":0.0093},
      {"B":90.5,"T":0,"s":0.00053},{"B":90.5,"T":0.7,"s":0.00053},{"B":90.5,"T":1,"s":0.00053},{"B":90.5,"T":1.4,"s":0.00053},{"B":90.5,"T":2,"s":0.00053},{"B":90.5,"T":2.6,"s":0.00053},{"B":90.5,"T":3.3,"s":0.00055},{"B":90.5,"T":4,"s":0.00058},{"B":90.5,"T":5.5,"s":0.00076},{"B":90.5,"T":7.5,"s":0.0014},{"B":90.5,"T":10,"s":0.0026},{"B":90.5,"T":14,"s":0.00524},{"B":90.5,"T":20,"s":0.00874},{"B":90.5,"T":20.5,"s":0.00904},
      {"B":91,"T":0,"s":0.00051},{"B":91,"T":0.7,"s":0.00051},{"B":91,"T":1,"s":0.00051},{"B":91,"T":1.4,"s":0.00051},{"B":91,"T":2,"s":0.00051},{"B":91,"T":2.6,"s":0.00051},{"B":91,"T":3.3,"s":0.00053},{"B":91,"T":4,"s":0.00056},{"B":91,"T":5.5,"s":0.00072},{"B":91,"T":7.5,"s":0.0013},{"B":91,"T":10,"s":0.0024},{"B":91,"T":14,"s":0.00498},{"B":91,"T":20,"s":0.00848},{"B":91,"T":20.5,"s":0.00878},
      {"B":91.5,"T":0,"s":0.00049},{"B":91.5,"T":0.7,"s":0.00049},{"B":91.5,"T":1,"s":0.00049},{"B":91.5,"T":1.4,"s":0.00049},{"B":91.5,"T":2,"s":0.00049},{"B":91.5,"T":2.6,"s":0.00049},{"B":91.5,"T":3.3,"s":0.0005},{"B":91.5,"T":4,"s":0.00053},{"B":91.5,"T":5.5,"s":0.00068},{"B":91.5,"T":7.5,"s":0.0012},{"B":91.5,"T":10,"s":0.0022},{"B":91.5,"T":14,"s":0.00472},{"B":91.5,"T":20,"s":0.00822},{"B":91.5,"T":20.5,"s":0.00852},
      {"B":92,"T":0,"s":0.00047},{"B":92,"T":0.7,"s":0.00047},{"B":92,"T":1,"s":0.00047},{"B":92,"T":1.4,"s":0.00047},{"B":92,"T":2,"s":0.00047},{"B":92,"T":2.6,"s":0.00047},{"B":92,"T":3.3,"s":0.00048},{"B":92,"T":4,"s":0.00051},{"B":92,"T":5.5,"s":0.00064},{"B":92,"T":7.5,"s":0.0011},{"B":92,"T":10,"s":0.002},{"B":92,"T":14,"s":0.00446},{"B":92,"T":20,"s":0.00796},{"B":92,"T":20.5,"s":0.00826},
      {"B":92.5,"T":0,"s":0.00045},{"B":92.5,"T":0.7,"s":0.00045},{"B":92.5,"T":1,"s":0.00045},{"B":92.5,"T":1.4,"s":0.00045},{"B":92.5,"T":2,"s":0.00045},{"B":92.5,"T":2.6,"s":0.00045},{"B":92.5,"T":3.3,"s":0.00046},{"B":92.5,"T":4,"s":0.00048},{"B":92.5,"T":5.5,"s":0.0006},{"B":92.5,"T":7.5,"s":0.001},{"B":92.5,"T":10,"s":0.0018},{"B":92.5,"T":14,"s":0.0042},{"B":92.5,"T":20,"s":0.0077},{"B":92.5,"T":20.5,"s":0.008}
    ],
    "lowFieldPoints": [
      {"B":65,"T":0.7,"s":0.0143},{"B":65,"T":1.4,"s":0.0173},{"B":65,"T":2.6,"s":0.0243},{"B":65,"T":4,"s":0.0274},
      {"B":65.5,"T":0.7,"s":0.01366},{"B":65.5,"T":1.4,"s":0.01646},{"B":65.5,"T":2.6,"s":0.02307},{"B":65.5,"T":4,"s":0.02618},
      {"B":66,"T":0.7,"s":0.01302},{"B":66,"T":1.4,"s":0.01563},{"B":66,"T":2.6,"s":0.02183},{"B":66,"T":4,"s":0.02496},
      {"B":66.5,"T":0.7,"s":0.01237},{"B":66.5,"T":1.4,"s":0.01479},{"B":66.5,"T":2.6,"s":0.0206},{"B":66.5,"T":4,"s":0.02373},
      {"B":67,"T":0.7,"s":0.01173},{"B":67,"T":1.4,"s":0.01395},{"B":67,"T":2.6,"s":0.01936},{"B":67,"T":4,"s":0.02251},
      {"B":67.5,"T":0.7,"s":0.01109},{"B":67.5,"T":1.4,"s":0.01311},{"B":67.5,"T":2.6,"s":0.01813},{"B":67.5,"T":4,"s":0.02129},
      {"B":68,"T":0.7,"s":0.01039},{"B":68,"T":1.4,"s":0.01228},{"B":68,"T":2.6,"s":0.01701},{"B":68,"T":4,"s":0.02013},
      {"B":68.5,"T":0.7,"s":0.00968},{"B":68.5,"T":1.4,"s":0.01144},{"B":68.5,"T":2.6,"s":0.0159},{"B":68.5,"T":4,"s":0.01896}
    ]
  },
  "layer": [
    {
      "data": {"name": "curves"},
      "mark": {"type": "line", "interpolate": "monotone", "strokeWidth": 1.15},
      "encoding": {
        "x": {"field": "T", "type": "quantitative", "scale": {"domain": [0, 20.5], "nice": false, "zero": false},
          "axis": {"orient": "bottom", "values": [0,1,2,3,4,5,6,7,8,9,10,11,12,13,14,15,16,17,18,19,20], "labelExpr": "datum.value % 5 === 0 ? datum.label : ''", "tickSize": {"condition": {"test": "datum.value % 5 === 0", "value": -9}, "value": -5}, "labelPadding": 19, "title": "T (K)", "titlePadding": 9}},
        "y": {"field": "s", "type": "quantitative", "scale": {"domain": [0, 0.0319], "nice": false, "zero": false},
          "axis": {"orient": "left", "values": [0,0.001,0.002,0.003,0.004,0.005,0.006,0.007,0.008,0.009,0.01,0.011,0.012,0.013,0.014,0.015,0.016,0.017,0.018,0.019,0.02,0.021,0.022,0.023,0.024,0.025,0.026,0.027,0.028,0.029,0.03,0.031], "format": ".3f", "labelExpr": "round(datum.value * 1000) % 5 === 0 ? datum.label : ''", "tickSize": {"condition": {"test": "round(datum.value * 1000) % 5 === 0", "value": -9}, "value": -5}, "labelPadding": 9, "title": "σzz (μΩ·cm)⁻¹", "titlePadding": 4}},
        "color": {"field": "B", "type": "quantitative",
          "scale": {"domain": [92.5, 88.4, 85.9, 83.4, 82, 80.7, 79.6, 78.5, 77.1, 75.7, 74.3, 72.7, 71.3, 70, 68, 67, 65], "range": ["#300000", "#800000", "#c00000", "#ff0000", "#ff1000", "#ff6000", "#ffa000", "#f0c800", "#a0e000", "#50e800", "#00f000", "#00e020", "#10b060", "#10909a", "#1060d0", "#2040f0", "#3010ff"], "interpolate": "rgb"},
          "legend": {"type": "gradient", "values": [65, 92.5], "format": ".1~f", "title": "B (T)", "titleOrient": "right", "titleAngle": 0, "titleAnchor": "middle", "titleBaseline": "middle", "titleAlign": "left", "titlePadding": -60}},
        "detail": {"field": "B", "type": "nominal"}
      }
    },
    {
      "data": {"name": "curves"},
      "transform": [{"filter": "datum.T === 20 || (datum.T === 10 && datum.B >= 66) || ((datum.T === 0.7 || datum.T === 1.4 || datum.T === 2.6 || datum.T === 4) && datum.B >= 69)"}],
      "mark": {"type": "circle", "size": 44, "opacity": 1, "strokeWidth": 0},
      "encoding": {
        "x": {"field": "T", "type": "quantitative",
          "axis": {"orient": "top", "values": [0,1,2,3,4,5,6,7,8,9,10,11,12,13,14,15,16,17,18,19,20], "labels": false, "title": null, "tickSize": {"condition": {"test": "datum.value % 5 === 0", "value": -9}, "value": -5}}},
        "y": {"field": "s", "type": "quantitative",
          "axis": {"orient": "right", "values": [0,0.001,0.002,0.003,0.004,0.005,0.006,0.007,0.008,0.009,0.01,0.011,0.012,0.013,0.014,0.015,0.016,0.017,0.018,0.019,0.02,0.021,0.022,0.023,0.024,0.025,0.026,0.027,0.028,0.029,0.03,0.031], "labels": false, "title": null, "tickSize": {"condition": {"test": "round(datum.value * 1000) % 5 === 0", "value": -9}, "value": -5}}},
        "fill": {"field": "B", "type": "quantitative", "legend": null,
          "scale": {"domain": [64.99, 67, 68, 70, 71.3, 72.7, 74.3, 75.7, 77.1, 78.5, 79.6, 80.7, 82, 83.4, 85.9, 88.4, 92.51], "range": ["#3010ff", "#2040f0", "#1060d0", "#10909a", "#10b060", "#00e020", "#00f000", "#50e800", "#a0e000", "#f0c800", "#ffa000", "#ff6000", "#ff1000", "#ff0000", "#c00000", "#800000", "#300000"], "interpolate": "rgb"}}
      }
    },
    {
      "data": {"name": "lowFieldPoints"},
      "mark": {"type": "circle", "size": 44, "opacity": 1, "strokeWidth": 0},
      "encoding": {
        "x": {"field": "T", "type": "quantitative", "axis": null},
        "y": {"field": "s", "type": "quantitative", "axis": null},
        "fill": {"field": "B", "type": "quantitative", "legend": null}
      }
    }
  ],
  "resolve": {"axis": {"x": "independent", "y": "independent"}}
}
